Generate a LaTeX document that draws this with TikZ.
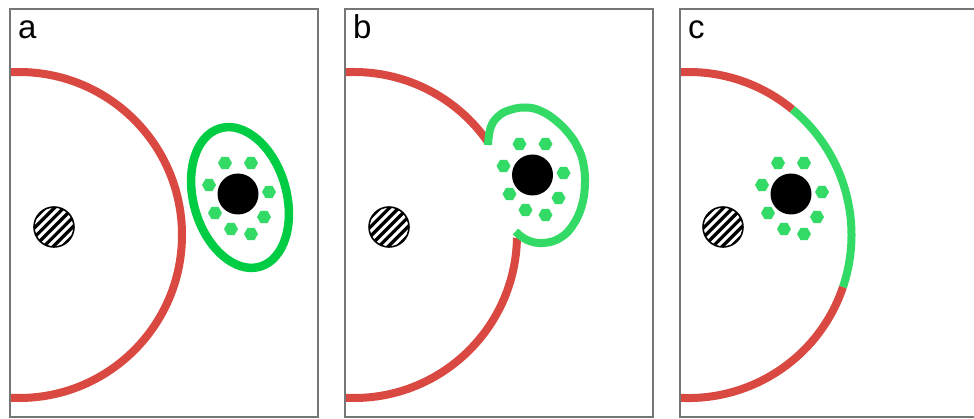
\documentclass[tikz,border=0pt]{standalone}
\usepackage{fontspec}
\setmainfont{Liberation Sans}
\definecolor{framegray}{RGB}{118,118,118}
\definecolor{cred}{RGB}{218,72,66}
\definecolor{cgreenA}{RGB}{0,204,68}
\definecolor{cgreen}{RGB}{52,218,102}
\newcommand\hexring[2]{%
  \foreach \dx/\dy in {-13/31,13/31,-29/9,31/2,-23/-19,26/-23,-7/-35,13/-40}{%
    \fill[hexfill] (#1+\dx,#2+\dy) +(0:7) -- +(60:7) -- +(120:7) -- +(180:7) -- +(240:7) -- +(300:7) -- cycle;}%
}
\newcommand\hatchdisc[2]{%
  \begin{scope}
    \clip (#1,#2) circle (20pt);
    \foreach \k in {-3,...,3}{%
      \draw[line width=3.3pt, rotate around={45:(#1,#2)}] (#1-26,#2+\k*6.6) -- (#1+26,#2+\k*6.6);}
  \end{scope}
  \draw[line width=1.6pt] (#1,#2) circle (20pt);
}
\begin{document}
\begin{tikzpicture}[x=1pt,y=1pt,
  frame/.style={draw=framegray, line width=2pt},
  redline/.style={draw=cred, line width=8pt},
  greenline/.style={draw=cgreen, line width=8pt},
  hexfill/.style={fill=cgreen},
  lbl/.style={anchor=base west, inner sep=0pt, font=\fontsize{33}{38}\selectfont}]
\useasboundingbox (0,0) rectangle (974,418);
\fill[white] (0,0) rectangle (974,418);

% ---------- panel a ----------
\begin{scope}
  \clip (10,1) rectangle (318,409);
  \draw[redline] (19,183) circle (163pt);
  \hatchdisc{54}{191}
  \draw[draw=cgreenA, line width=8.5pt, rotate around={16:(240,220.5)}] (240,220.5) ellipse [x radius=46.5pt, y radius=72pt];
  \fill[black] (238,224) circle (20.5pt);
  \hexring{238}{224}
\end{scope}
\draw[frame] (10,1) rectangle (318,409);
\node[lbl] (la) at (18,379) {a};

% ---------- panel b ----------
\begin{scope}
  \clip (345,1) rectangle (653,409);
  \draw[redline] (354,183) ++(34.5:163pt) arc[start angle=34.5, end angle=200, radius=163pt];
  \draw[redline] (354,183) ++(-1:163pt) arc[start angle=-1, end angle=-200, radius=163pt];
  \hatchdisc{389}{191}
  \draw[greenline] plot[smooth, tension=0.7] coordinates {(488,273) (490.5,290) (498,301.5) (510,308) (526.5,310.5) (542,306.5) (557,296.5) (570,283) (578,270) (583,256) (585,236) (582,213) (573,193) (560,180) (543,175) (527,178) (515.5,186.5)};
  \fill[black] (532.5,243) circle (20.5pt);
  \hexring{532.5}{243}
\end{scope}
\draw[frame] (345,1) rectangle (653,409);
\node[lbl] (lb) at (353,379) {b};

% ---------- panel c ----------
\begin{scope}
  \clip (680,1) rectangle (988,409);
  \draw[redline] (688.5,183) ++(50.4:163pt) arc[start angle=50.4, end angle=200, radius=163pt];
  \draw[greenline] (688.5,183) ++(50.4:163pt) arc[start angle=50.4, end angle=-18.7, radius=163pt];
  \draw[redline] (688.5,183) ++(-18.7:163pt) arc[start angle=-18.7, end angle=-200, radius=163pt];
  \hatchdisc{723}{191}
  \fill[black] (791,224) circle (20.5pt);
  \hexring{791}{224}
\end{scope}
\draw[frame] (680,1) rectangle (988,409);
\node[lbl] (lc) at (688,379) {c};
\end{tikzpicture}
\end{document}
